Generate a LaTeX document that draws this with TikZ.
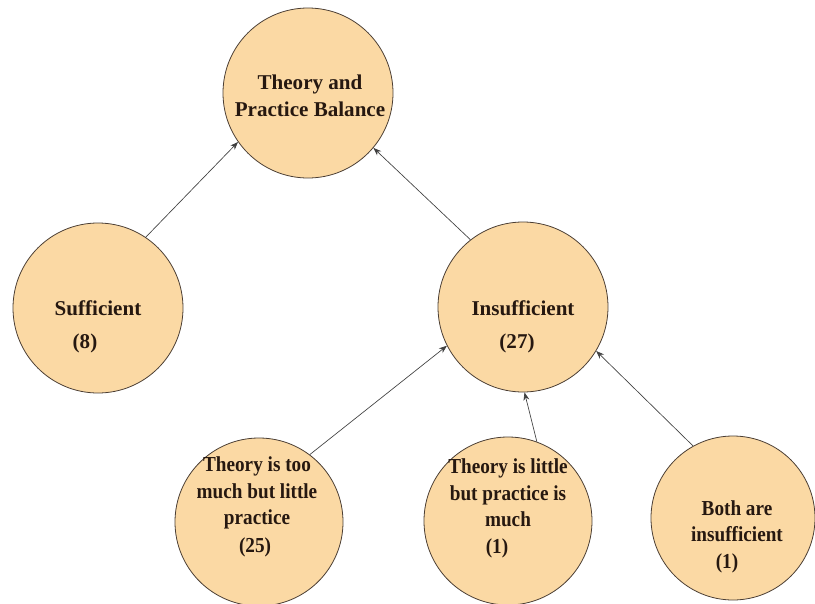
\documentclass[tikz,border=0pt]{standalone}
\usepackage{fontspec}
\setmainfont{Liberation Serif}
\newfontfamily\narrowserif[FakeStretch=0.9]{Liberation Serif}
\usetikzlibrary{arrows.meta}
\definecolor{peach}{RGB}{251,217,164}
\definecolor{rim}{RGB}{75,62,52}
\definecolor{ink}{RGB}{38,24,16}
\tikzset{
	bubble/.style={circle,draw=rim,fill=peach,line width=0.6pt,minimum size=#1,inner sep=0pt},
	txt/.style={align=center,text=ink,font=\bfseries\fontsize{15.8}{20}\selectfont},
	ntxt/.style={align=center,text=ink,font=\narrowserif\bfseries\fontsize{16}{19.8}\selectfont},
	link/.style={draw=black!75,line width=0.5pt,-{Stealth[length=6pt,width=4.5pt]}}
}

\begin{document}
\begin{tikzpicture}[x=0.75pt,y=-0.75pt]
	\useasboundingbox (0,0) rectangle (815,604);

	% circles
	\node [bubble=127.5pt] (balance) at (308,93) {};
	\node [bubble=127.5pt] (suff) at (98,308) {};
	\node [bubble=127.5pt] (insuff) at (523,307) {};
	\node [bubble=126pt] (toomuch) at (259,522) {};
	\node [bubble=126pt] (little) at (508,521) {};
	\node [bubble=123pt] (both) at (733,518) {};

	% texts
	\node [txt] (balancet) at (310,96) {Theory and\\Practice Balance};
	\node [txt] (sufft) at (98,308) {Sufficient};
	\node [txt] (suffn) at (85,343) {(8)};
	\node [txt] (insufft) at (523,308) {Insufficient};
	\node [txt] (insuffn) at (517,343) {(27)};
	\node [ntxt] (toomucht) at (257,493) {Theory is too\\much but little\\practice};
	\node [ntxt] (toomuchn) at (255,547) {(25)};
	\node [ntxt] (littlet) at (508,493) {Theory is little\\but practice is\\much};
	\node [ntxt] (littlen) at (497,548) {(1)};
	\node [ntxt] (botht) at (737,521) {Both are\\insufficient};
	\node [ntxt] (bothn) at (727,563) {(1)};

	% arrows
	\draw [link] (suff.56) -- (balance.215);
	\draw [link] (insuff.128) -- (balance.320);
	\draw [link] (toomuch.53) -- (insuff.207);
	\draw [link] (little.70) -- (insuff.271);
	\draw [link] (both.119) -- (insuff.329);
\end{tikzpicture}
\end{document}
